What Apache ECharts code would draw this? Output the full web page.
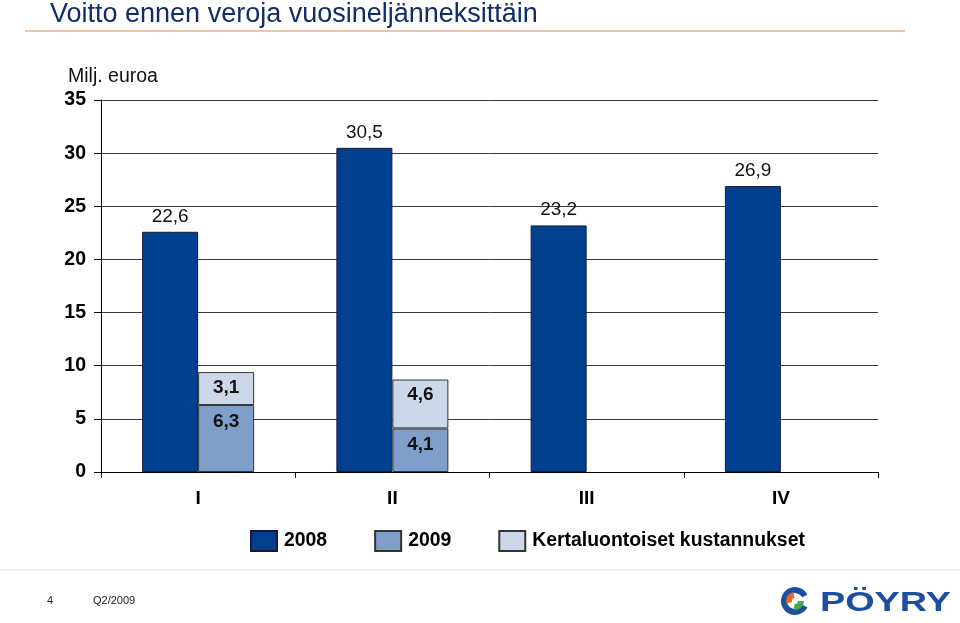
<!DOCTYPE html>
<html>
<head>
<meta charset="utf-8">
<script src="https://cdn.jsdelivr.net/npm/echarts@6/dist/echarts.min.js"></script>
<style>html,body{margin:0;padding:0;background:#fff;}#c{width:960px;height:623px;}</style>
</head>
<body>
<div id="c"></div>
<script>
var categories = ['I', 'II', 'III', 'IV'];
var values2008 = [22.6, 30.5, 23.2, 26.9];
var values2009 = [6.3, 4.1, null, null];
var valuesOneOff = [3.1, 4.6, null, null];
var yTicks = [0, 5, 10, 15, 20, 25, 30, 35];
var seriesNames = ['2008', '2009', 'Kertaluontoiset kustannukset'];

var FONT = '"Liberation Sans", Arial, sans-serif';
function fmt(p) { return p.value == null ? '' : String(p.value).replace('.', ','); }

var chart = echarts.init(document.getElementById('c'), null, {renderer: 'canvas'});
chart.setOption({
  animation: false,
  backgroundColor: '#fff',
  textStyle: {fontFamily: FONT},
  grid: {left: 101, right: 82, top: 100, bottom: 151, containLabel: false},
  legend: {
    left: 245, top: 525,
    itemWidth: 26, itemHeight: 20, itemGap: 47,
    icon: 'rect',
    data: seriesNames,
    textStyle: {fontSize: 19.4, fontWeight: 'bold', color: '#000', fontFamily: FONT, padding: [0, 0, 0, 2]}
  },
  xAxis: {
    type: 'category',
    data: categories,
    axisLine: {lineStyle: {color: '#000', width: 1}},
    axisTick: {show: true, length: 6, lineStyle: {color: '#000'}},
    axisLabel: {fontSize: 19, fontWeight: 'bold', color: '#000', margin: 17, fontFamily: FONT}
  },
  yAxis: {
    type: 'value',
    min: yTicks[0], max: yTicks[yTicks.length - 1], interval: 5,
    axisLine: {show: true, lineStyle: {color: '#000', width: 1}},
    axisTick: {show: true, inside: false, length: 7, lineStyle: {color: '#000'}},
    axisLabel: {fontSize: 19.5, fontWeight: 'bold', color: '#000', margin: 15, fontFamily: FONT},
    splitLine: {show: true, lineStyle: {color: '#3a3a3a', width: 1}}
  },
  series: [
    {
      name: seriesNames[0], type: 'bar', stack: 'a',
      data: values2008, barWidth: 56, barGap: '0%',
      itemStyle: {color: '#00408F', borderColor: '#1a1a3a', borderWidth: 1},
      label: {show: true, position: 'top', distance: 6, formatter: fmt, fontSize: 19, color: '#111', fontFamily: FONT}
    },
    {
      name: seriesNames[1], type: 'bar', stack: 'b',
      data: values2009, barWidth: 56,
      itemStyle: {color: '#7F9FC8', borderColor: '#333', borderWidth: 1},
      label: {show: true, position: 'insideTop', distance: 7, formatter: fmt, fontSize: 19, fontWeight: 'bold', color: '#111', fontFamily: FONT}
    },
    {
      name: seriesNames[2], type: 'bar', stack: 'b',
      data: valuesOneOff, barWidth: 56,
      itemStyle: {color: '#CBD8EA', borderColor: '#333', borderWidth: 1},
      label: {show: true, position: 'insideTop', distance: 6, formatter: fmt, fontSize: 19, fontWeight: 'bold', color: '#111', fontFamily: FONT}
    }
  ],
  graphic: [
    {type: 'text', left: 50, top: 1, style: {text: 'Voitto ennen veroja vuosineljänneksittäin', fontSize: 27, fontFamily: FONT, fill: '#102c6a'}},
    {type: 'line', shape: {x1: 25, y1: 31, x2: 905, y2: 31}, style: {stroke: '#e6c7ae', lineWidth: 2}},
    {type: 'text', left: 68, top: 67, style: {text: 'Milj. euroa', fontSize: 19.5, fontFamily: FONT, fill: '#111'}},
    {type: 'line', shape: {x1: 0, y1: 570, x2: 960, y2: 570}, style: {stroke: '#e3e3e3', lineWidth: 1}},
    {type: 'text', left: 47, top: 595, style: {text: '4', fontSize: 11, fontFamily: FONT, fill: '#222'}},
    {type: 'text', left: 93, top: 595, style: {text: 'Q2/2009', fontSize: 11, fontFamily: FONT, fill: '#222'}},
    {type: 'sector', shape: {cx: 795, cy: 601, r: 14, r0: 8, startAngle: Math.PI * 0.15, endAngle: Math.PI * 1.85, clockwise: true}, style: {fill: '#1d4fa0'}},
    {type: 'sector', shape: {cx: 795, cy: 601, r: 9, r0: 3, startAngle: Math.PI * 0.9, endAngle: Math.PI * 1.45}, style: {fill: '#ef6a2a'}},
    {type: 'sector', shape: {cx: 795, cy: 601, r: 9, r0: 3, startAngle: Math.PI * 0.0, endAngle: Math.PI * 0.55}, style: {fill: '#4aa84a'}},
    {type: 'text', x: 820, y: 589, scaleX: 1.35, style: {text: 'PÖYRY', fontSize: 28, fontWeight: 'bold', fontFamily: FONT, fill: '#1d4fa0'}}
  ]
});
</script>
</body>
</html>
